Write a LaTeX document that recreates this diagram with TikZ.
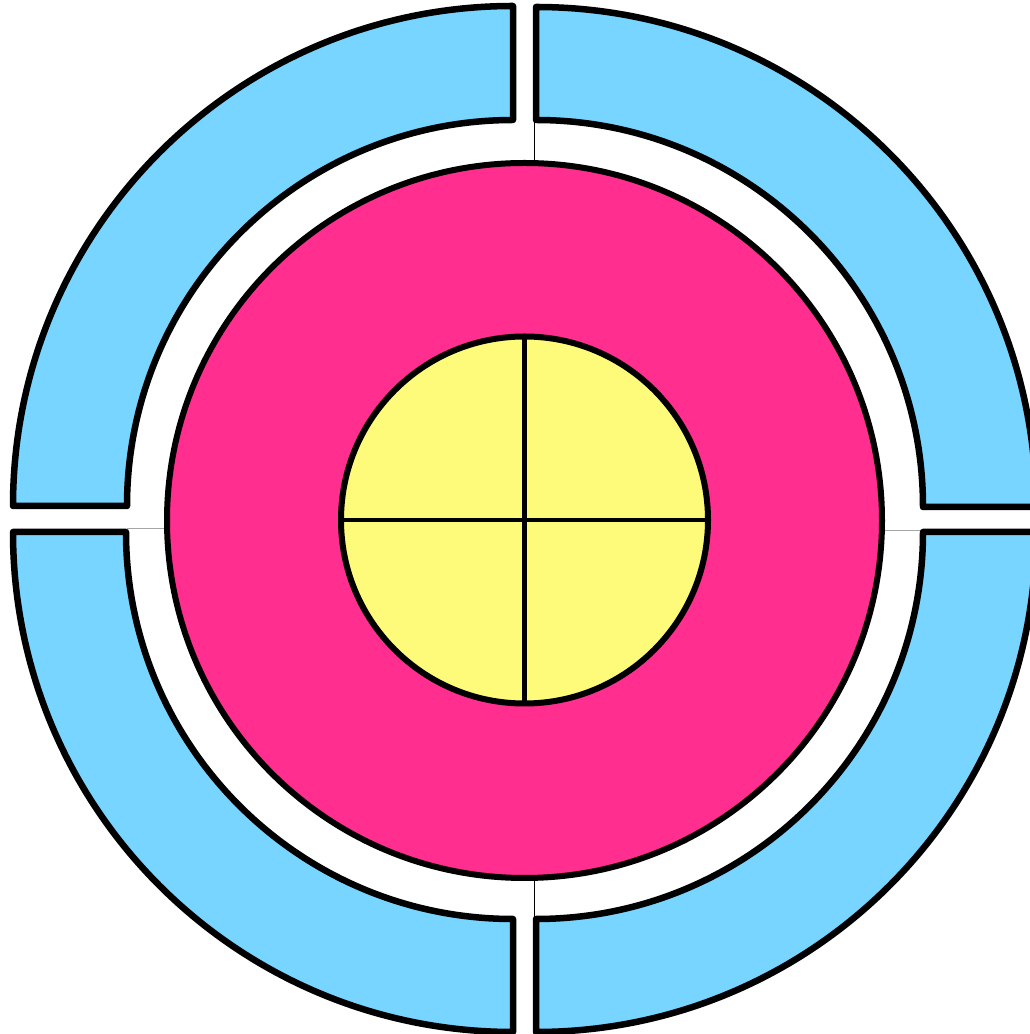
\documentclass[tikz,border=0pt]{standalone}
\definecolor{ringblue}{RGB}{119,213,255}
\definecolor{ringpink}{RGB}{255,46,143}
\definecolor{ringyellow}{RGB}{255,251,122}
\tikzset{
  quad/.style={fill=ringblue, draw=black, line width=6.5pt, line join=round, line cap=round},
  pinkdisc/.style={fill=ringpink, draw=black, line width=6pt},
  golddisc/.style={fill=ringyellow, draw=black, line width=6pt},
  crossline/.style={draw=black, line width=4.5pt},
  hair/.style={draw=black, line width=1pt},
  grayhair/.style={draw=black!35, line width=1pt}
}
\begin{document}
\begin{tikzpicture}[x=1pt,y=1pt]
\useasboundingbox (0,0) rectangle (1030,1034);
\clip (0,0) rectangle (1030,1034);
% thin guide lines
\draw[hair] (534,913) -- (534,873);
\draw[hair] (534,156) -- (534,114);
\draw[grayhair] (127,505) -- (166,505);
\draw[grayhair] (883,503) -- (923,503);
% outer blue quarter rings
\draw[quad] (13,528) arc[start angle=180,end angle=90,radius=500] -- (513,914) arc[start angle=90,end angle=180,radius=386] -- cycle;
\draw[quad] (536,1027) arc[start angle=90,end angle=0,radius=500] -- (923,527) arc[start angle=0,end angle=90,radius=387] -- cycle;
\draw[quad] (13,502) arc[start angle=180,end angle=270,radius=500] -- (513,115) arc[start angle=270,end angle=180,radius=387] -- cycle;
\draw[quad] (536,2) arc[start angle=270,end angle=360,radius=500] -- (923,502) arc[start angle=0,end angle=-90,radius=387] -- cycle;
% pink disc
\path[pinkdisc] (524.5,513.5) circle[radius=357.5];
% yellow centre
\path[golddisc] (524.5,514) circle[radius=183.5];
\draw[crossline] (524.5,697.5) -- (524.5,330.5);
\draw[crossline] (341,514) -- (708,514);
\end{tikzpicture}
\end{document}
